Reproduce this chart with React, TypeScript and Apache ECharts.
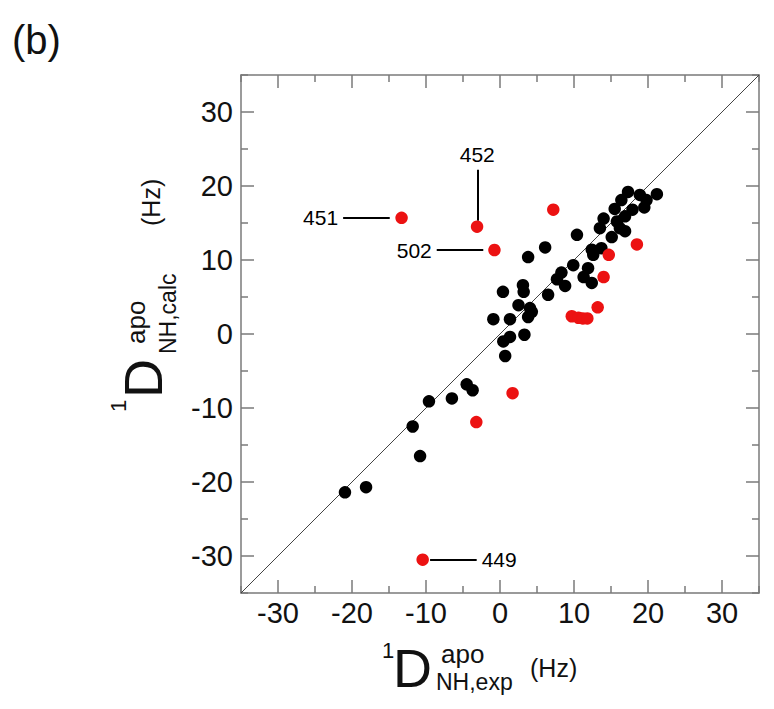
import React, { useEffect, useRef } from 'react';
import * as echarts from 'echarts';

const AXIS_MIN = -35;
const AXIS_MAX = 35;
const tickLabels = [-30, -20, -10, 0, 10, 20, 30];

const blackPoints: [number, number][] = [
  [17.3, 19.2], [18.9, 18.8], [21.2, 18.9], [16.4, 18.1], [19.8, 18.1],
  [19.5, 17.1], [17.9, 16.8], [15.5, 16.9], [16.9, 15.9], [14.0, 15.6],
  [15.8, 15.2], [13.5, 14.3], [16.2, 14.3], [16.9, 13.9], [15.1, 13.1],
  [10.4, 13.4], [6.1, 11.7], [3.8, 10.4], [12.4, 11.4], [13.7, 11.6],
  [12.6, 10.7], [9.9, 9.3], [11.9, 8.9], [8.3, 8.3], [11.3, 7.7],
  [7.7, 7.4], [12.4, 6.9], [8.8, 6.5], [3.1, 6.6], [3.2, 5.7],
  [0.4, 5.7], [6.5, 5.3], [2.5, 3.9], [4.05, 3.5], [4.3, 3.0],
  [3.8, 2.3], [-0.9, 2.0], [1.35, 2.0], [1.35, -0.4], [0.45, -1.0],
  [3.3, -0.1], [0.7, -2.97], [-4.5, -6.8], [-3.7, -7.6], [-6.5, -8.7],
  [-9.6, -9.1], [-10.8, -16.5], [-11.8, -12.5], [-20.95, -21.4], [-18.1, -20.7],
];

const redPoints: [number, number][] = [
  [-13.3, 15.7], [-3.1, 14.5], [-0.75, 11.35], [7.2, 16.8], [18.5, 12.1],
  [14.7, 10.7], [14.0, 7.7], [13.2, 3.6], [9.7, 2.4], [10.6, 2.2],
  [11.2, 2.1], [11.8, 2.1], [1.7, -8.0], [-3.2, -11.9], [-10.45, -30.5],
];

const diagonal: [number, number][] = [[AXIS_MIN, AXIS_MIN], [AXIS_MAX, AXIS_MAX]];

const calloutNames = ['449', '451', '452', '502'];
const calloutLines: [number, number][][] = [
  [[-9.45, -30.5], [-3.15, -30.5]],
  [[-21.2, 15.7], [-14.9, 15.7]],
  [[-3.07, 22.2], [-3.07, 15.3]],
  [[-8.55, 11.35], [-2.26, 11.35]],
];
const calloutAnchors: [number, number][] = [[-2.95, -30.5], [-21.4, 15.7], [-3.07, 22.4], [-8.75, 11.35]];
const calloutPositions = ['right', 'left', 'top', 'left'];

const FONT = '"Liberation Sans", Arial, Helvetica, sans-serif';
const AXIS_GRAY = '#7a7a7a';

function tickAxis(position: string) {
  return {
    type: 'value',
    position,
    min: AXIS_MIN,
    max: AXIS_MAX,
    interval: 10,
    axisLine: { show: true, onZero: false, lineStyle: { color: AXIS_GRAY, width: 1.5 } },
    axisTick: { show: true, inside: true, length: 7, lineStyle: { color: AXIS_GRAY, width: 1.5 } },
    minorTick: { show: true, splitNumber: 2, length: 13, lineStyle: { color: AXIS_GRAY, width: 1.5 } },
    axisLabel: { show: false },
    splitLine: { show: false },
    minorSplitLine: { show: false },
  };
}

function labelAxis(position: string, margin: number) {
  return {
    type: 'value',
    position,
    min: AXIS_MIN,
    max: AXIS_MAX,
    interval: 5,
    axisLine: { show: false, onZero: false },
    axisTick: { show: false },
    splitLine: { show: false },
    axisLabel: {
      show: true,
      margin,
      fontSize: 29,
      fontFamily: FONT,
      color: '#111',
      formatter: (v: number) => (tickLabels.includes(v) ? String(v) : ''),
    },
  };
}

function txt(text: string, x: number, y: number, size: number, rotation = 0) {
  return {
    type: 'text',
    x,
    y,
    rotation,
    silent: true,
    style: {
      text,
      fontSize: size,
      fontFamily: FONT,
      fill: '#111',
      align: 'left',
      verticalAlign: 'middle',
      textAlign: 'left',
      textVerticalAlign: 'middle',
    },
  };
}

const R = Math.PI / 2;

const option: any = {
  animation: false,
  backgroundColor: '#fff',
  grid: { left: 241, top: 75, width: 518, height: 518, outerBoundsMode: 'none' },
  xAxis: [tickAxis('bottom'), tickAxis('top'), labelAxis('bottom', 5)],
  yAxis: [tickAxis('left'), tickAxis('right'), labelAxis('left', 8)],
  graphic: [
    txt('(b)', 12, 40, 40),
    // x-axis title
    txt('1', 382, 650, 22),
    txt('D', 393, 668, 54),
    txt('apo', 441, 654, 26),
    txt('NH,exp', 436, 682, 23),
    txt('(Hz)', 530, 668, 25),
    // y-axis title (rotated)
    txt('1', 118, 412, 22, R),
    txt('D', 143, 398, 54, R),
    txt('apo', 136, 344, 26, R),
    txt('NH,calc', 168, 354, 23, R),
    txt('(Hz)', 151, 226, 25, R),
  ],
  series: [
    {
      type: 'line',
      data: diagonal,
      xAxisIndex: 0,
      yAxisIndex: 0,
      symbol: 'none',
      silent: true,
      lineStyle: { color: '#444', width: 1 },
      z: 1,
    },
    {
      type: 'lines',
      coordinateSystem: 'cartesian2d',
      xAxisIndex: 0,
      yAxisIndex: 0,
      silent: true,
      data: calloutLines.map((c) => ({ coords: c })),
      lineStyle: { color: '#000', width: 2, opacity: 1 },
      z: 2,
    },
    {
      type: 'scatter',
      xAxisIndex: 0,
      yAxisIndex: 0,
      data: blackPoints,
      symbolSize: 12.5,
      itemStyle: { color: '#000', opacity: 1 },
      z: 3,
    },
    {
      type: 'scatter',
      xAxisIndex: 0,
      yAxisIndex: 0,
      data: redPoints,
      symbolSize: 12.5,
      itemStyle: { color: '#ec1212', opacity: 1 },
      z: 4,
    },
    {
      type: 'scatter',
      xAxisIndex: 0,
      yAxisIndex: 0,
      silent: true,
      symbolSize: 1,
      itemStyle: { color: 'rgba(0,0,0,0)', opacity: 1 },
      data: calloutAnchors.map((p, i) => ({
        value: p,
        name: calloutNames[i],
        label: { position: calloutPositions[i] },
      })),
      label: {
        show: true,
        distance: 3,
        formatter: (p: any) => p.name,
        fontSize: 21,
        fontFamily: FONT,
        color: '#000',
        opacity: 1,
      },
      z: 5,
    },
  ],
};

export default function App() {
  const ref = useRef<HTMLDivElement>(null);
  useEffect(() => {
    const chart = echarts.init(ref.current!, undefined, { renderer: 'svg' });
    chart.setOption(option);
    return () => chart.dispose();
  }, []);
  return (
    <div
      ref={ref}
      style={{ position: 'fixed', left: 0, top: 0, width: 774, height: 709, background: '#fff' }}
    />
  );
}
